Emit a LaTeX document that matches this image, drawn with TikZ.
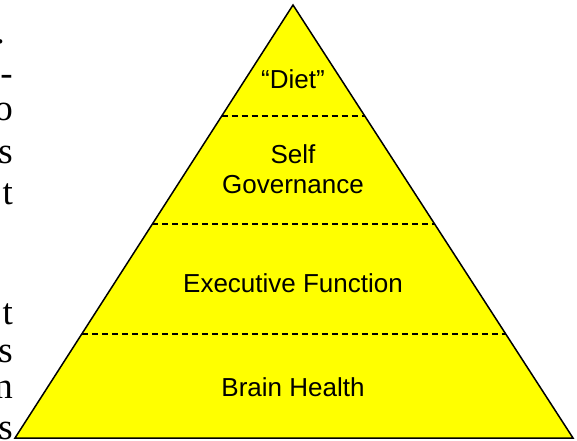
\documentclass[tikz,border=0pt]{standalone}
\usepackage{fontspec}
\setmainfont{Liberation Serif}
\newfontfamily\labelfont{Liberation Sans}
\usepackage{xcolor}
\usetikzlibrary{calc}

\definecolor{pyryellow}{RGB}{255,255,0}

\tikzset{
    tier/.style={font=\labelfont\fontsize{26}{30.6}\selectfont, anchor=base, align=center},
    cut/.style={line width=1.3pt, dash pattern=on 6pt off 4pt},
    margintext/.style={font=\fontsize{37}{37}\selectfont, anchor=base east, inner sep=0pt}
}

\begin{document}
\begin{tikzpicture}[x=1pt, y=1pt]
    \useasboundingbox (0,0) rectangle (577,440);
    \clip (0,0) rectangle (577,440);

    % Line ends of the cut-off paragraph
    \node[margintext] (m1) at (5,396) {.};
    \node[margintext] (m2) at (13,355) {-};
    \node[margintext] (m3) at (13,320) {o};
    \node[margintext] (m4) at (13,277) {s};
    \node[margintext] (m5) at (13,236) {t};
    \node[margintext] (m6) at (13,116) {t};
    \node[margintext] (m7) at (13,78) {s};
    \node[margintext] (m8) at (13,42) {n};
    \node[margintext] (m9) at (13,1) {s};

    % Pyramid
    \coordinate (apex) at (293,435);
    \coordinate (bl) at (15,2);
    \coordinate (br) at (573,2);
    \draw[fill=pyryellow, line width=1.5pt, line join=miter] (apex) -- (bl) -- (br) -- cycle;

    % Level borders
    \coordinate (c1l) at ($(apex)!0.2564!(bl)$);
    \coordinate (c1r) at ($(apex)!0.2564!(br)$);
    \coordinate (c2l) at ($(apex)!0.5058!(bl)$);
    \coordinate (c2r) at ($(apex)!0.5058!(br)$);
    \coordinate (c3l) at ($(apex)!0.7598!(bl)$);
    \coordinate (c3r) at ($(apex)!0.7598!(br)$);
    \draw[cut] (c1l) -- (c1r);
    \draw[cut] (c2l) -- (c2r);
    \draw[cut] (c3l) -- (c3r);

    % Level labels
    \node[tier] (diet) at (293,352) {“Diet”};
    \node[tier] (self) at (293,277) {Self};
    \node[tier] (gov) at (293,247) {Governance};
    \node[tier] (exec) at (293,148) {Executive Function};
    \node[tier] (brain) at (293,44) {Brain Health};
\end{tikzpicture}
\end{document}
